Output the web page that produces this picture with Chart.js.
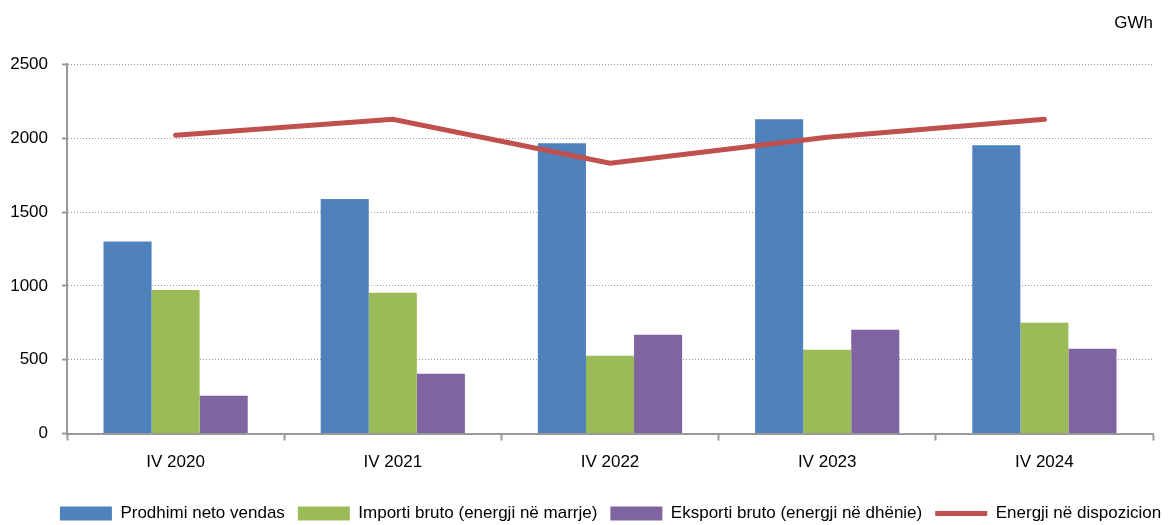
<!DOCTYPE html>
<html>
<head>
<meta charset="utf-8">
<script src="https://cdn.jsdelivr.net/npm/chart.js@4.4.0/dist/chart.umd.min.js"></script>
<style>
  html, body { margin: 0; padding: 0; background: #fff; }
  #wrap { width: 1170px; height: 525px; }
</style>
</head>
<body>
<div id="wrap"><canvas id="graph" width="1170" height="525"></canvas></div>
<script>
const categories = ['IV 2020', 'IV 2021', 'IV 2022', 'IV 2023', 'IV 2024'];

// GWh
const prodhimi = [1300, 1588, 1966, 2128, 1953];
const importi = [973, 953, 527, 568, 750];
const eksporti = [257, 405, 669, 703, 574];
const disponim = [2020, 2128, 1831, 2007, 2128];

const yTicks = [0, 500, 1000, 1500, 2000, 2500];

const seriesNames = [
    'Prodhimi neto vendas',
    'Importi bruto (energji në marrje)',
    'Eksporti bruto (energji në dhënie)',
    'Energji në dispozicion'
];

var colors = ['#4F81BD', '#9BBB59', '#8064A2', '#C0504D'];

Chart.defaults.font.family = '"Liberation Sans", Arial, sans-serif';
Chart.defaults.font.size = 17;
Chart.defaults.color = '#000';

function barSet(i, values) {
    return {
        type: 'bar',
        label: seriesNames[i],
        data: values,
        backgroundColor: colors[i],
        borderWidth: 0,
        pointStyle: 'rect',
        categoryPercentage: 0.664,
        barPercentage: 1,
        order: 1
    };
}

// legend in the original sits a bit right of centre
const legendShift = {
    id: 'legendShift',
    afterLayout(chart) {
        chart.legend.left += 29;
        chart.legend.right += 29;
    }
};

const data = {
    labels: categories,
    datasets: [
        barSet(0, prodhimi),
        barSet(1, importi),
        barSet(2, eksporti),
        {
            type: 'line',
            label: seriesNames[3],
            data: disponim,
            borderColor: colors[3],
            backgroundColor: colors[3],
            borderWidth: 5,
            borderCapStyle: 'round',
            pointRadius: 0,
            pointStyle: 'line',
            tension: 0,
            order: 0
        }
    ]
};

const config = {
    type: 'bar',
    data: data,
    plugins: [legendShift],
    options: {
        responsive: false,
        animation: false,
        layout: { padding: { left: 10, right: 17, top: 0, bottom: -7 } },
        plugins: {
            tooltip: { enabled: false },
            title: {
                display: true,
                text: 'GWh',
                align: 'end',
                font: { size: 17, weight: 'normal' },
                padding: { top: 13, bottom: 31 }
            },
            legend: {
                position: 'bottom',
                labels: {
                    usePointStyle: true,
                    pointStyleWidth: 52,
                    boxHeight: 14,
                    padding: 13,
                    font: { size: 17 },
                    sort: (a, b) => a.datasetIndex - b.datasetIndex
                }
            }
        },
        scales: {
            x: {
                offset: true,
                afterFit: s => { s.height += 7; },
                grid: {
                    offset: true,
                    drawOnChartArea: false,
                    drawTicks: true,
                    tickLength: 7,
                    tickColor: '#999',
                    tickWidth: 2
                },
                border: { color: '#999', width: 2 },
                ticks: { padding: 12, font: { size: 17 } }
            },
            y: {
                min: 0,
                max: 2500,
                afterBuildTicks: s => { s.ticks = yTicks.map(v => ({ value: v })); },
                afterFit: s => { s.width = 57; },
                grid: {
                    color: '#999',
                    lineWidth: 1,
                    tickLength: 5,
                    tickColor: '#999',
                    tickWidth: 2
                },
                border: { color: '#999', width: 2, dash: [1, 2] },
                ticks: { padding: 14, font: { size: 17 }, callback: v => String(v) }
            }
        }
    }
};

new Chart(document.getElementById('graph'), config);
</script>
</body>
</html>
